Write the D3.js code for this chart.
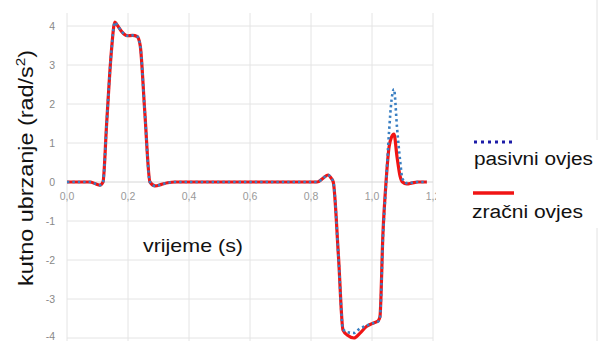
<!DOCTYPE html>
<html>
<head>
<meta charset="utf-8">
<script src="https://cdn.jsdelivr.net/npm/d3@7"></script>
<style>
  body { margin: 0; background: #fff; }
  svg { display: block; font-family: "Liberation Sans", Arial, sans-serif; }
</style>
</head>
<body>
<svg id="chart" width="599" height="341"></svg>
<script>
// time (s)
const time = [0, 0.05, 0.075, 0.095, 0.108, 0.118, 0.13, 0.145, 0.157, 0.165, 0.18, 0.197, 0.215, 0.23, 0.24, 0.255, 0.272, 0.289, 0.31, 0.33, 0.354,
  0.5, 0.7, 0.82, 0.84, 0.856, 0.866, 0.873, 0.89, 0.905, 0.92, 0.941, 0.96, 0.983, 1.0, 1.02, 1.026, 1.036, 1.046, 1.056, 1.064, 1.072,
  1.082, 1.092, 1.1, 1.114, 1.13, 1.15, 1.18]

const zracni = [0, 0, 0, -0.05, -0.08, 0, 1.5, 3.3, 4.1, 4.02, 3.85, 3.75, 3.76, 3.73, 3.5, 1.8, 0, -0.1, -0.06, -0.02, 0,
  0, 0, 0, 0.1, 0.18, 0.1, 0, -1.9, -3.8, -3.93, -4.0, -3.88, -3.7, -3.63, -3.56, -3.46, -1.3, 0, 0.9, 1.15, 1.23,
  0.65, 0.15, 0, -0.05, -0.03, 0, 0]

const pasivni = [0, 0, 0, -0.05, -0.08, 0, 1.5, 3.3, 4.1, 4.02, 3.85, 3.75, 3.76, 3.73, 3.5, 1.8, 0, -0.1, -0.06, -0.02, 0,
  0, 0, 0, 0.1, 0.18, 0.1, 0, -1.9, -3.78, -3.85, -3.87, -3.76, -3.68, -3.63, -3.58, -3.48, -1.4, -0.05, 1.3, 2.1, 2.38,
  1.4, 0.56, 0.08, -0.03, -0.02, 0, 0]

const xTicks = [0, 0.2, 0.4, 0.6, 0.8, 1.0, 1.2]
const yTicks = [-4, -3, -2, -1, 0, 1, 2, 3, 4]
const legendLabels = ['pasivni ovjes', 'zračni ovjes']

const svg = d3.select('#chart')

const x = d3.scaleLinear().domain([0, 1.2]).range([67, 433])
const y = d3.scaleLinear().domain([-4, 4]).range([338, 26])

const fmt = d => d3.format('.1f')(d).replace('.', ',')

// grid
svg.append('g').selectAll('line').data(xTicks).join('line')
    .attr('x1', d => x(d)).attr('x2', d => x(d))
    .attr('y1', 13).attr('y2', 341)
    .attr('stroke', '#e4e4e4')
svg.append('g').selectAll('line').data(yTicks).join('line')
    .attr('x1', x(0)).attr('x2', x(1.2))
    .attr('y1', d => y(d)).attr('y2', d => y(d))
    .attr('stroke', d => d === 0 ? '#d6d6d6' : '#e4e4e4')

// y tick labels (bottom one sits at the edge, as in the original)
svg.append('g').selectAll('text').data(yTicks).join('text')
    .attr('x', 55).attr('y', d => d === -4 ? y(d) + 2 : y(d) + 3.5)
    .attr('text-anchor', 'end')
    .attr('font-size', 10.5).attr('fill', '#888')
    .text(d => d)

// x tick labels, clipped at the right like the original
svg.append('clipPath').attr('id', 'clipx').append('rect')
    .attr('x', 0).attr('y', 0).attr('width', 436).attr('height', 341)
svg.append('g').attr('clip-path', 'url(#clipx)')
    .selectAll('text').data(xTicks).join('text')
    .attr('x', d => x(d)).attr('y', y(0) + 18)
    .attr('text-anchor', 'middle')
    .attr('font-size', 10.5).attr('fill', '#999')
    .text(fmt)

const line = d3.line()
    .x((d, i) => x(time[i]))
    .y(d => y(d))
    .curve(d3.curveMonotoneX)

svg.append('path').datum(zracni)
    .attr('d', line)
    .attr('fill', 'none').attr('stroke', '#f01414').attr('stroke-width', 3.2)
    .attr('stroke-linejoin', 'round')

svg.append('path').datum(pasivni)
    .attr('d', line)
    .attr('fill', 'none').attr('stroke', '#3a7fc2').attr('stroke-width', 2.6)
    .attr('stroke-dasharray', '2.4,3')

// axis titles
const yt = svg.append('text')
    .attr('transform', 'translate(33,168) rotate(-90)')
    .attr('text-anchor', 'middle')
    .attr('font-size', 20).attr('fill', '#111')
    .attr('textLength', 236).attr('lengthAdjust', 'spacingAndGlyphs')
yt.append('tspan').text('kutno ubrzanje (rad/s')
yt.append('tspan').attr('font-size', 13).attr('dy', -8).text('2')
yt.append('tspan').attr('dy', 8).text(')')

svg.append('text')
    .attr('x', 143).attr('y', 252)
    .attr('font-size', 19).attr('fill', '#111')
    .attr('textLength', 100).attr('lengthAdjust', 'spacingAndGlyphs')
    .text('vrijeme (s)')

// right panel edge
svg.append('line').attr('x1', 597).attr('x2', 597).attr('y1', 0).attr('y2', 140).attr('stroke', '#e2e2e2')
svg.append('line').attr('x1', 597).attr('x2', 597).attr('y1', 228).attr('y2', 341).attr('stroke', '#e2e2e2')

// legend
const lg = svg.append('g')
lg.append('line').attr('x1', 474).attr('x2', 514).attr('y1', 142).attr('y2', 142)
    .attr('stroke', '#1c1ca8').attr('stroke-width', 3).attr('stroke-dasharray', '3,4')
lg.append('line').attr('x1', 473).attr('x2', 514).attr('y1', 193).attr('y2', 193)
    .attr('stroke', '#f01414').attr('stroke-width', 3.5)
lg.selectAll('text').data(legendLabels).join('text')
    .attr('x', (d, i) => i === 0 ? 474 : 472)
    .attr('y', (d, i) => i === 0 ? 165 : 218)
    .attr('font-size', 18).attr('fill', '#111')
    .attr('textLength', (d, i) => i === 0 ? 119 : 111)
    .attr('lengthAdjust', 'spacingAndGlyphs')
    .text(d => d)
</script>
</body>
</html>
